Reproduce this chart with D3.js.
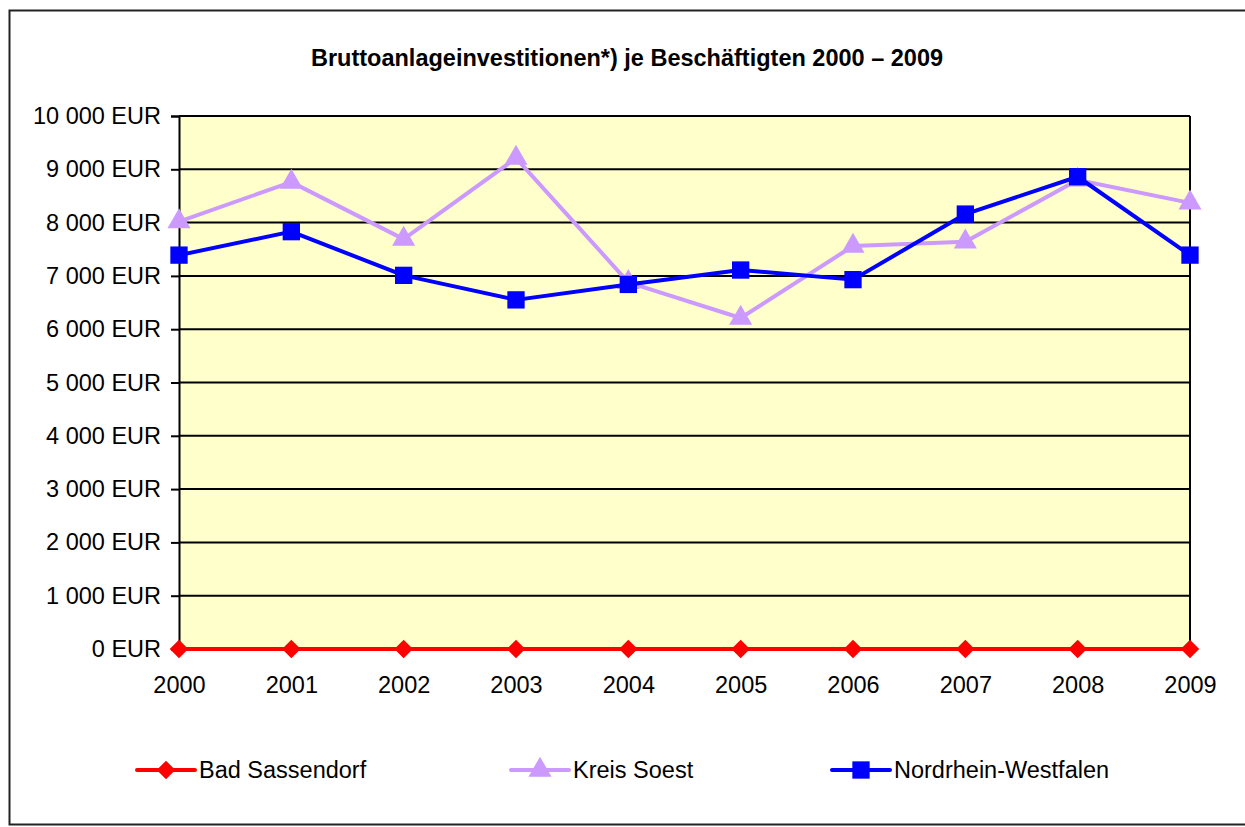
<!DOCTYPE html>
<html>
<head>
<meta charset="utf-8">
<script src="https://cdn.jsdelivr.net/npm/d3@7"></script>
<style>
  body { margin: 0; background: #fff; }
  svg { display: block; font-family: Arial, 'Liberation Sans', sans-serif; }
</style>
</head>
<body>
<div id="chart"></div>
<script>
const years = ['2000', '2001', '2002', '2003', '2004', '2005', '2006', '2007', '2008', '2009']
const badSassendorf = [0, 0, 0, 0, 0, 0, 0, 0, 0, 0]
const kreisSoest = [8020, 8760, 7690, 9210, 6880, 6210, 7560, 7640, 8800, 8370]
const nrw = [7390, 7830, 7010, 6550, 6840, 7110, 6930, 8160, 8860, 7390]
const yTicks = [0, 1000, 2000, 3000, 4000, 5000, 6000, 7000, 8000, 9000, 10000]

const width = 1245
const height = 827
const plot = { left: 179, right: 1190, top: 116, bottom: 649 }
const labelSize = 23.5

const series = [
  { name: 'Bad Sassendorf', values: badSassendorf, color: '#FF0000', marker: 'diamond', legendX: 137 },
  { name: 'Kreis Soest', values: kreisSoest, color: '#CC99FF', marker: 'triangle', legendX: 511 },
  { name: 'Nordrhein-Westfalen', values: nrw, color: '#0000FF', marker: 'square', legendX: 832 }
]

const svg = d3.select('#chart')
  .append('svg')
  .attr('width', width)
  .attr('height', height)

// outer chart frame
svg.append('rect')
  .attr('x', 9.5)
  .attr('y', 10.5)
  .attr('width', 1245)
  .attr('height', 814)
  .attr('fill', '#fff')
  .attr('stroke', '#222')
  .attr('stroke-width', 2)

svg.append('text')
  .attr('x', 627)
  .attr('y', 66)
  .attr('text-anchor', 'middle')
  .attr('font-size', 23.5)
  .attr('font-weight', 'bold')
  .text('Bruttoanlageinvestitionen*) je Beschäftigten 2000 – 2009')

const x = d3.scalePoint()
  .domain(years)
  .range([plot.left, plot.right])

const y = d3.scaleLinear()
  .domain([0, 10000])
  .range([plot.bottom, plot.top])

svg.append('rect')
  .attr('x', plot.left)
  .attr('y', plot.top)
  .attr('width', plot.right - plot.left)
  .attr('height', plot.bottom - plot.top)
  .attr('fill', '#FFFFCC')

// gridlines
svg.append('g')
  .selectAll('line')
  .data(yTicks)
  .enter()
  .append('line')
  .attr('x1', plot.left)
  .attr('x2', plot.right)
  .attr('y1', d => y(d))
  .attr('y2', d => y(d))
  .attr('stroke', '#000')
  .attr('stroke-width', 2)

// right border of plot
svg.append('line')
  .attr('x1', plot.right)
  .attr('x2', plot.right)
  .attr('y1', plot.top)
  .attr('y2', plot.bottom)
  .attr('stroke', '#000')
  .attr('stroke-width', 2)

const fmt = d => d3.format(',')(d).replace(/,/g, ' ') + ' EUR'

const yAxis = svg.append('g')
  .attr('transform', `translate(${plot.left},0)`)
  .call(d3.axisLeft(y).tickValues(yTicks).tickSize(8).tickPadding(10).tickFormat(fmt))

yAxis.select('.domain').attr('stroke', '#000').attr('stroke-width', 2)
yAxis.selectAll('.tick line').attr('stroke', '#000').attr('stroke-width', 2)
yAxis.selectAll('.tick text')
  .attr('font-size', labelSize)
  .attr('fill', '#000')
  .attr('font-family', 'Arial, Liberation Sans, sans-serif')

const xAxis = svg.append('g')
  .attr('transform', `translate(0,${plot.bottom})`)
  .call(d3.axisBottom(x).tickSize(0).tickPadding(27))

xAxis.select('.domain').remove()
xAxis.selectAll('.tick text')
  .attr('font-size', labelSize)
  .attr('fill', '#000')
  .attr('font-family', 'Arial, Liberation Sans, sans-serif')

const symbolFor = m => {
  if (m === 'diamond') return d3.symbol().type(d3.symbolDiamond2).size(220)
  if (m === 'triangle') return d3.symbol().type(d3.symbolTriangle).size(230)
  return d3.symbol().type(d3.symbolSquare).size(300)
}

const line = d3.line()
  .x((d, i) => x(years[i]))
  .y(d => y(d))

series.forEach(s => {
  const g = svg.append('g')
  g.append('path')
    .datum(s.values)
    .attr('d', line)
    .attr('fill', 'none')
    .attr('stroke', s.color)
    .attr('stroke-width', 4)
    .attr('stroke-linejoin', 'round')

  g.selectAll('path.marker')
    .data(s.values)
    .enter()
    .append('path')
    .attr('class', 'marker')
    .attr('d', symbolFor(s.marker))
    .attr('fill', s.color)
    .attr('transform', (d, i) => `translate(${x(years[i])},${y(d)})`)

  // legend
  const ly = 770
  g.append('line')
    .attr('x1', s.legendX)
    .attr('x2', s.legendX + 58)
    .attr('y1', ly)
    .attr('y2', ly)
    .attr('stroke', s.color)
    .attr('stroke-width', 4)
    .attr('stroke-linecap', 'round')
  g.append('path')
    .attr('d', symbolFor(s.marker))
    .attr('fill', s.color)
    .attr('transform', `translate(${s.legendX + 29},${ly})`)
  g.append('text')
    .attr('x', s.legendX + 62)
    .attr('y', ly)
    .attr('dy', '0.35em')
    .attr('font-size', labelSize)
    .text(s.name)
})
</script>
</body>
</html>
